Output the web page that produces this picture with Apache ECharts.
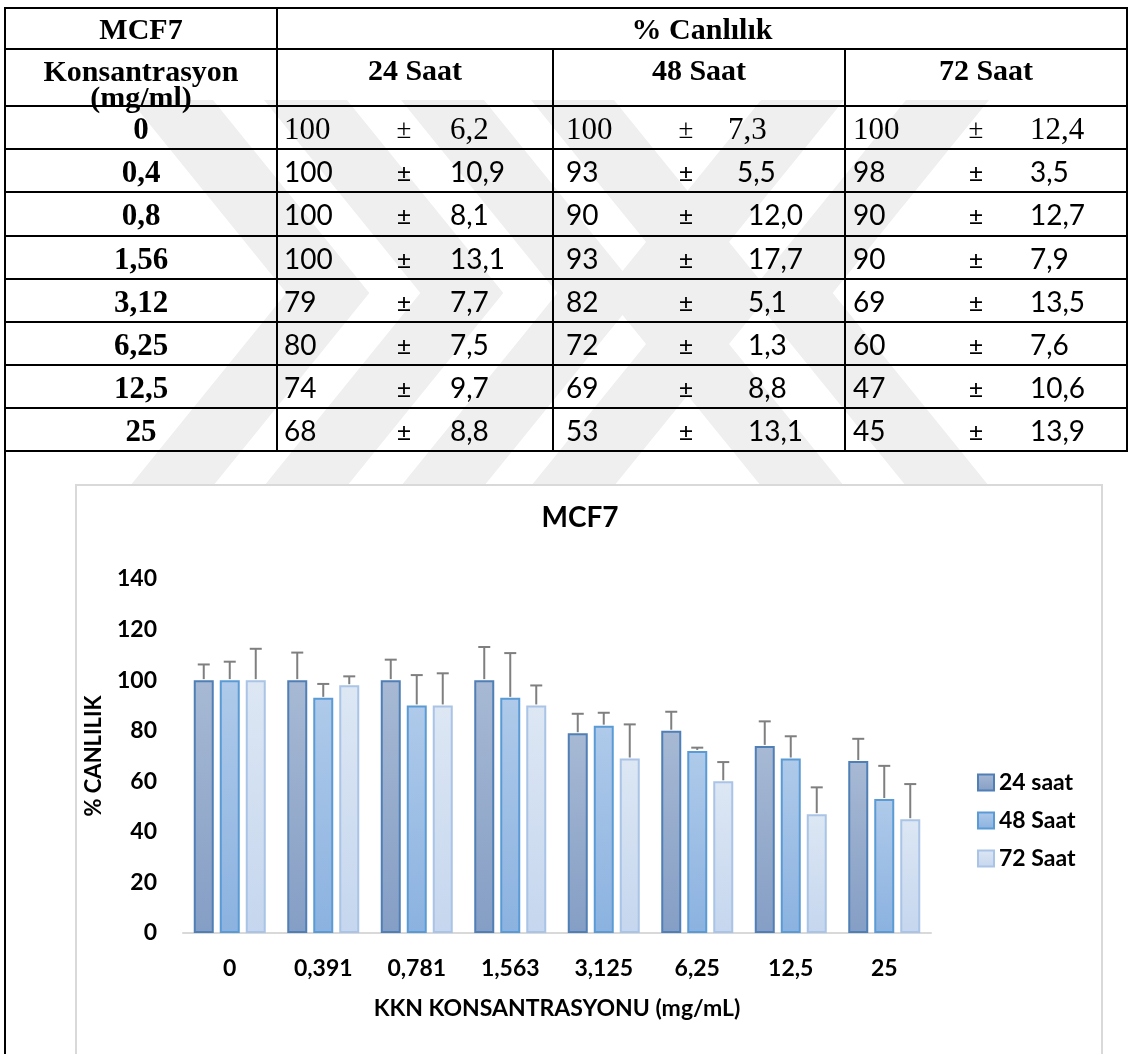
<!DOCTYPE html>
<html>
<head>
<meta charset="utf-8">
<script src="https://cdn.jsdelivr.net/npm/echarts@6/dist/echarts.min.js"></script>
<style>
html,body{margin:0;padding:0;background:#fff;}
#wrap{position:relative;width:1132px;height:1054px;overflow:hidden;background:#fff;}
#c{position:absolute;left:0;top:0;width:1132px;height:1054px;}
#tbl{position:absolute;left:0;top:0;width:1132px;height:1054px;pointer-events:none;}
.ln{position:absolute;background:#000;}
.t{position:absolute;white-space:nowrap;line-height:1;color:#000;}
.serifb{font-family:'Liberation Serif','Times New Roman',serif;font-weight:bold;}
.serif{font-family:'Liberation Serif','Times New Roman',serif;}
.cal{font-family:Lato,'Open Sans',sans-serif;}
</style>
</head>
<body>
<div id="wrap">
  <div id="c"></div>
  <div id="tbl"></div>
</div>
<script>
// ---------- data ----------
const tableConcentrations = ['0','0,4','0,8','1,56','3,12','6,25','12,5','25'];
const chartCategories = ['0','0,391','0,781','1,563','3,125','6,25','12,5','25'];
const seriesNames = ['24 saat','48 Saat','72 Saat'];
const tableHeads = ['24 Saat','48 Saat','72 Saat'];
const mean24 = [100,100,100,100,79,80,74,68];
const sd24   = [6.2,10.9,8.1,13.1,7.7,7.5,9.7,8.8];
const mean48 = [100,93,90,93,82,72,69,53];
const sd48   = [7.3,5.5,12.0,17.7,5.1,1.3,8.8,13.1];
const mean72 = [100,98,90,90,69,60,47,45];
const sd72   = [12.4,3.5,12.7,7.9,13.5,7.6,10.6,13.9];
const yTicks = {min:0, max:140, interval:20};
const chartTitle = 'MCF7';
const xName = 'KKN KONSANTRASYONU (mg/mL)';
const yName = '% CANLILIK';

const means = [mean24, mean48, mean72];
const sds = [sd24, sd48, sd72];

// ---------- table (HTML) ----------
const tbl = document.getElementById('tbl');
const colX = [5,277,553,845,1127];
const rowY = [8,49,106,149,192,236,279,322,365,408,451];
function line(x,y,w,h){const d=document.createElement('div');d.className='ln';d.style.left=x+'px';d.style.top=y+'px';d.style.width=w+'px';d.style.height=h+'px';tbl.appendChild(d);}
function txt(s,cls,size,x,y,align){
  const d=document.createElement('div');d.className='t '+cls;d.textContent=s;
  d.style.fontSize=size+'px';d.style.left=x+'px';d.style.top=y+'px';
  let tx = align==='center'?'-50%':(align==='right'?'-100%':'0');
  d.style.transform='translate('+tx+',-50%)';
  tbl.appendChild(d);return d;
}
rowY.forEach(y=>line(colX[0]-1,y-1,colX[4]-colX[0]+2,2));
line(colX[0]-1,rowY[0]-1,2,1054-rowY[0]+1);
line(colX[1]-1,rowY[0]-1,2,rowY[10]-rowY[0]+2);
line(colX[2]-1,rowY[1]-1,2,rowY[10]-rowY[1]+2);
line(colX[3]-1,rowY[1]-1,2,rowY[10]-rowY[1]+2);
line(colX[4]-1,rowY[0]-1,2,rowY[10]-rowY[0]+2);
txt('MCF7','serifb',30,(colX[0]+colX[1])/2,29,'center');
txt('% Canlılık','serifb',30,(colX[1]+colX[4])/2,29,'center');
txt('Konsantrasyon','serifb',30,(colX[0]+colX[1])/2,71,'center');
txt('(mg/ml)','serifb',30,(colX[0]+colX[1])/2,97,'center');
tableHeads.forEach((h,j)=>txt(h,'serifb',30,(colX[j+1]+colX[j+2])/2,70,'center'));
const valOff = [7,13,8], pmOff=[127,133,131];
function sdOff(j,r){ if(j===0) return 173; if(j===1) return r===0?175:(r===1?184:195); return 185; }
const fmt = v => v.toFixed(1).replace('.',',');
tableConcentrations.forEach((c,r)=>{
  const cy = (rowY[r+2]+rowY[r+3])/2;
  txt(c,'serifb',31,(colX[0]+colX[1])/2,cy,'center');
  for(let j=0;j<3;j++){
    const cls = r===0?'serif':'cal';
    const sz = r===0?31:28;
    txt(String(means[j][r]),cls,sz,colX[j+1]+valOff[j],cy,'left');
    txt('±',cls,r===0?27:25,colX[j+1]+pmOff[j],cy+1,'center');
    txt(fmt(sds[j][r]),cls,sz,colX[j+1]+sdOff(j,r),cy,'left');
  }
});

// ---------- chart (ECharts) ----------
const chart = echarts.init(document.getElementById('c'), null, {renderer:'canvas'});
const FONT = 'Lato';
const BAR_W = 20, BAR_GAP = 0.3;
const offsets = [-BAR_W*(1+BAR_GAP), 0, BAR_W*(1+BAR_GAP)];
const styles = [
  {top:'#a7b9d4', bottom:'#859ec5', border:'#4f7fb5'},
  {top:'#afcaea', bottom:'#8bb2e0', border:'#5b9bd5'},
  {top:'#dde7f4', bottom:'#c5d6ee', border:'#a9c4e6'}
];
function grad(s){return new echarts.graphic.LinearGradient(0,0,0,1,[{offset:0,color:s.top},{offset:1,color:s.bottom}]);}

// faint background watermark chevrons (decoration)
const wm = [];
const W = 83, yT = 100, yB = 486, yA = (yT+yB)/2, D = 0.81*(yA-yT);
[130,264,401,531].forEach(x=>wm.push({type:'polygon', z:-20, silent:true,
  shape:{points:[[x,yT],[x+W,yT],[x+W+D,yA],[x+W,yB],[x,yB],[x+D,yA]]}, style:{fill:'#efefef'}}));
[761,906].forEach(x=>wm.push({type:'polygon', z:-20, silent:true,
  shape:{points:[[x,yT],[x+W,yT],[x+W-D,yA],[x+W,yB],[x,yB],[x-D,yA]]}, style:{fill:'#efefef'}}));

const series = [];
seriesNames.forEach((n,i)=>{
  series.push({
    type:'bar', name:n, data:means[i], barWidth:BAR_W, barGap:(BAR_GAP*100)+'%',
    itemStyle:{color:grad(styles[i]), borderColor:styles[i].border, borderWidth:2},
    z:2
  });
});
seriesNames.forEach((n,i)=>{
  series.push({
    type:'custom', name:n+'_err', silent:true, z:3,
    data: means[i].map((m,k)=>[k,m,sds[i][k]]),
    encode:{x:0,y:1},
    renderItem:(params,api)=>{
      const k=api.value(0), m=api.value(1), s=api.value(2);
      const p0=api.coord([k,m]), p1=api.coord([k,m+s]);
      const x=p0[0]+offsets[i];
      return {type:'group',children:[
        {type:'line',shape:{x1:x,y1:p0[1]-1,x2:x,y2:p1[1]},style:{stroke:'#7f7f7f',lineWidth:2}},
        {type:'line',shape:{x1:x-6,y1:p1[1],x2:x+6,y2:p1[1]},style:{stroke:'#7f7f7f',lineWidth:2}}
      ]};
    }
  });
});

chart.setOption({
  animation:false,
  backgroundColor:'transparent',
  graphic: wm.concat([
    {type:'rect', z:-10, shape:{x:76,y:485,width:1026,height:620}, style:{fill:'#fff',stroke:'#d9d9d9',lineWidth:2}},
    {type:'text', z:10, x:580, y:518, style:{text:chartTitle, font:'bold 28px '+FONT, fill:'#000', align:'center', verticalAlign:'middle'}}
  ]),
  grid:{left:183, right:201, top:579, bottom:121, containLabel:false},
  legend:{
    orient:'vertical', left:972, top:766, itemWidth:16, itemHeight:16, itemGap:15,
    icon:'rect', data:seriesNames, selectedMode:false,
    textStyle:{fontFamily:FONT, fontWeight:'bold', fontSize:23, color:'#000'}
  },
  xAxis:{
    type:'category', data:chartCategories,
    axisLine:{lineStyle:{color:'#d9d9d9', width:2}},
    axisTick:{show:false},
    axisLabel:{color:'#000', fontFamily:FONT, fontWeight:'bold', fontSize:23, margin:24},
    name:xName, nameLocation:'middle', nameGap:64,
    nameTextStyle:{color:'#000', fontFamily:FONT, fontWeight:'bold', fontSize:23}
  },
  yAxis:{
    type:'value', min:yTicks.min, max:yTicks.max, interval:yTicks.interval,
    splitLine:{show:false}, axisLine:{show:false}, axisTick:{show:false},
    axisLabel:{color:'#000', fontFamily:FONT, fontWeight:'bold', fontSize:23, margin:26},
    name:yName, nameLocation:'middle', nameGap:78, nameRotate:90,
    nameTextStyle:{color:'#000', fontFamily:FONT, fontWeight:'bold', fontSize:22}
  },
  series:series
});
</script>
</body>
</html>
